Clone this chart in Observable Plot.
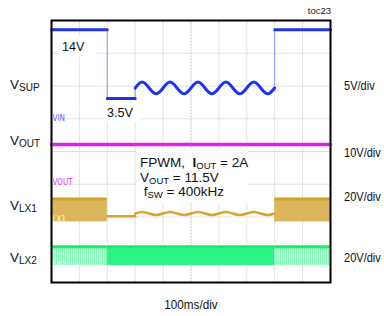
<!DOCTYPE html>
<html><head><meta charset="utf-8">
<script src="https://cdn.jsdelivr.net/npm/d3@7"></script>
<script src="https://cdn.jsdelivr.net/npm/@observablehq/plot@0.6"></script>
<style>
body{margin:0;background:#fff}
svg{display:block;font-family:"Liberation Sans",Arial,sans-serif}
</style>
</head><body><div id="chart"></div>
<script>
// ---- data (time in ms, 100 ms/div; volts) ----
const timeGrid = [100, 200, 300, 400, 500, 600, 700, 800, 900];
const divGrid = [1, 2, 3, 4, 5, 6, 7];

const vsupTime  = [0, 200, 200, 300, 300, 325, 350, 375, 400, 425, 450, 475, 500, 525, 550, 575, 600, 625, 650, 675, 700, 725, 750, 775, 800, 800, 1000];
const vsupVolts = [14, 14, 3.5, 3.5, 5.1, 6.0, 5.1, 4.2, 5.1, 6.0, 5.1, 4.2, 5.1, 6.0, 5.1, 4.2, 5.1, 6.0, 5.1, 4.2, 5.1, 6.0, 5.1, 4.2, 5.1, 14, 14];

const voutTime  = [0, 1000];
const voutVolts = [11.5, 11.5];

const lx1BandStart = [0, 800];
const lx1BandEnd   = [200, 1000];
const lx1BandHigh  = [14, 14];

const lx2RegionStart = [0, 200, 800];
const lx2RegionEnd   = [200, 800, 1000];
const lx2RegionHigh  = [11.5, 11.5, 11.5];
const lx2RegionMode  = ["buck", "boost", "buck"];

const channelSubs   = ["SUP", "OUT", "LX1", "LX2"];
const channelScales = ["5V/div", "10V/div", "20V/div", "20V/div"];
const groundTags    = ["VIN", "VOUT", "LX1", "LX2"];

// ---- channel settings (zero offset in divisions, volts per division) ----
const off = {SUP: 4.92, OUT: 3.06, LX1: 1.85, LX2: 0.52};
const vpd = {SUP: 5, OUT: 10, LX1: 20, LX2: 20};
const toDiv = (ch, v) => off[ch] + v / vpd[ch];

// build tables
const vsup = []; const jumps = []; let seg = 0;
vsupTime.forEach((t, i) => {
  if (i > 0 && t === vsupTime[i - 1]) { seg++; jumps.push({t, v1: vsupVolts[i - 1], v2: vsupVolts[i]}); }
  vsup.push({t, v: vsupVolts[i], seg});
});
const lx1Mid = vsup.filter(d => d.seg === 1 || d.seg === 2);
const lx1Jumps = jumps.filter(d => d.t > 200 && d.t < 800);
const vout = voutTime.map((t, i) => ({t, v: voutVolts[i]}));
const lx1Bands = lx1BandStart.map((s, i) => ({s, e: lx1BandEnd[i], h: lx1BandHigh[i]}));
const lx2Regions = lx2RegionStart.map((s, i) => ({s, e: lx2RegionEnd[i], h: lx2RegionHigh[i], mode: lx2RegionMode[i]}));

const plot = Plot.plot({
  width: 384, height: 316,
  marginLeft: 51, marginRight: 54, marginTop: 20, marginBottom: 34,
  x: {domain: [0, 1000], axis: null},
  y: {domain: [0, 8], axis: null},
  marks: [
    Plot.ruleX(timeGrid, {stroke: "#e3e3e3", strokeWidth: 1}),
    Plot.ruleY(divGrid, {stroke: "#e3e3e3", strokeWidth: 1}),
    Plot.ruleX([500], {stroke: "#cfcfcf", strokeWidth: 1, strokeDasharray: "1,2"}),
    Plot.ruleY([4], {stroke: "#cfcfcf", strokeWidth: 1, strokeDasharray: "1,2"}),
    // LX2
    Plot.rect(lx2Regions, {x1: "s", x2: "e", y1: off.LX2, y2: d => toDiv("LX2", d.h),
      fill: d => d.mode === "boost" ? "#2cf383" : "url(#lx2hatch)"}),
    Plot.ruleY(lx2Regions, {x1: "s", x2: "e", y: d => toDiv("LX2", d.h), stroke: "#1de972", strokeWidth: 3}),
    // LX1
    Plot.rect(lx1Bands, {x1: "s", x2: "e", y1: off.LX1, y2: d => toDiv("LX1", d.h), fill: "#dbb65d"}),
    Plot.ruleY(lx1Bands, {x1: "s", x2: "e", y: d => toDiv("LX1", d.h), stroke: "#d4a12a", strokeWidth: 3}),
    Plot.line(lx1Mid, {x: "t", y: d => toDiv("LX1", d.v), z: "seg", curve: "natural", stroke: "#d8a532", strokeWidth: 2.5}),
    Plot.ruleX(lx1Jumps, {x: "t", y1: d => toDiv("LX1", d.v1), y2: d => toDiv("LX1", d.v2), stroke: "#d8a532", strokeWidth: 1.5}),
    // VOUT
    Plot.line(vout, {x: "t", y: d => toDiv("OUT", d.v), stroke: "#de22ee", strokeWidth: 3.5}),
    // VSUP
    Plot.ruleX(jumps, {x: "t", y1: d => toDiv("SUP", d.v1), y2: d => toDiv("SUP", d.v2), stroke: "#8a93ff", strokeWidth: 1}),
    Plot.line(vsup, {x: "t", y: d => toDiv("SUP", d.v), z: "seg", curve: "natural", stroke: "#2233e6", strokeWidth: 3}),
    Plot.frame({stroke: "#000", strokeWidth: 2})
  ]
});
document.getElementById("chart").appendChild(plot);

const svg = d3.select(plot);
const defs = svg.insert("defs", ":first-child");
function hatch(id, a, b) {
  const p = defs.append("pattern").attr("id", id).attr("width", 2).attr("height", 4).attr("patternUnits", "userSpaceOnUse");
  p.append("rect").attr("width", 1).attr("height", 4).attr("fill", a);
  p.append("rect").attr("x", 1).attr("width", 1).attr("height", 4).attr("fill", b);
}
hatch("lx2hatch", "#8ef9bd", "#b6fdd6");

const layer = svg.append("g");
function box(x, y, w, h) { layer.append("rect").attr("x", x).attr("y", y).attr("width", w).attr("height", h).attr("fill", "#fff"); }
function rich(x, y, parts, size, fill, anchor, sx) {
  const g = layer.append("g").attr("transform", `translate(${x},${y}) scale(${sx || 1},1)`);
  const t = g.append("text").attr("font-size", size).attr("fill", fill || "#111")
    .attr("text-anchor", anchor || "start").style("white-space", "pre");
  parts.forEach(p => {
    const s = t.append("tspan").text(p.t);
    if (p.sub) s.attr("font-size", p.sub).attr("dy", p.dy || 2.5);
    if (p.up) s.attr("dy", -p.up);
    if (p.bold) s.attr("font-weight", "bold");
  });
  return t;
}

// white backgrounds behind annotations
box(58, 36, 38, 20);
box(104, 101, 36, 21);
box(136, 149, 112, 54);

rich(331, 14, [{t: "toc23"}], 9.5, "#222", "end");
rich(62, 51, [{t: "14V"}], 13.5, "#111", "start", 0.93);
rich(107, 117, [{t: "3.5V"}], 13.5, "#111", "start", 0.93);

rich(140, 167, [{t: "FPWM,  "}, {t: "I", bold: true}, {t: "OUT", sub: 9.5, dy: 2}, {t: " = 2A", up: 2}], 13.5);
rich(140, 181.5, [{t: "V"}, {t: "OUT", sub: 9.5, dy: 2}, {t: " = 11.5V", up: 2}], 13.5);
rich(140, 196, [{t: " f"}, {t: "SW", sub: 9.5, dy: 2}, {t: " = 400kHz", up: 2}], 13.5);

const leftY = [89, 145, 209.5, 261.5];
channelSubs.forEach((s, i) => rich(10, leftY[i], [{t: "V"}, {t: s, sub: 10, dy: 2}], 13.5));
const rightY = [89.5, 156.5, 200.5, 261.5];
channelScales.forEach((s, i) => rich(344, rightY[i], [{t: s}], 13, "#111", "start", 0.85));

rich(191, 309, [{t: "100ms/div"}], 13, "#111", "middle", 0.9);

const tagY = [120.5, 185, 221.5, 267.5];
const tagColor = ["#5b6cff", "#e040f0", "#fff4d8", "#e6fff2"];
groundTags.forEach((g, i) => rich(52.5, tagY[i], [{t: g}], 8, tagColor[i]).attr("font-family", "DejaVu Sans Condensed, sans-serif"));
</script>
</body></html>
